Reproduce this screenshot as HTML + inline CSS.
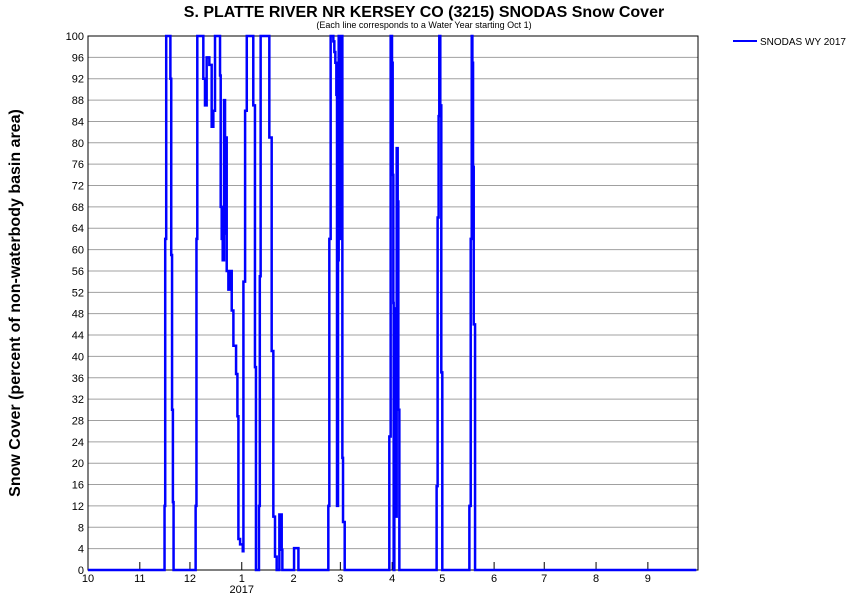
<!DOCTYPE html>
<html><head><meta charset="utf-8"><style>
body{margin:0;background:#fff;}
svg{display:block;font-family:"Liberation Sans",Arial,sans-serif;}
</style></head><body>
<svg id="chart" width="850" height="600">
<text x="424" y="17" text-anchor="middle" font-size="16" font-weight="bold">S. PLATTE RIVER NR KERSEY CO (3215) SNODAS Snow Cover</text>
<text x="424" y="28" text-anchor="middle" font-size="9">(Each line corresponds to a Water Year starting Oct 1)</text>
<text transform="translate(20,303) rotate(-90)" text-anchor="middle" font-size="16" font-weight="bold">Snow Cover (percent of non-waterbody basin area)</text>
<g id="grid"></g>
<g id="yticks"></g>
<g id="xticks"></g>
<rect x="88" y="36" width="610" height="534" fill="none" stroke="#000" stroke-width="1"/>
<path id="series" fill="none" stroke="#0000ff" stroke-width="2.5" stroke-linejoin="miter"/>
<g>
<line x1="733" y1="41" x2="757" y2="41" stroke="#0000ff" stroke-width="2"/>
<text x="760" y="45" font-size="10">SNODAS WY 2017</text>
</g>
</svg>
<script>
const yTicks = [0,4,8,12,16,20,24,28,32,36,40,44,48,52,56,60,64,68,72,76,80,84,88,92,96,100];
const monthLabels = ["10","11","12","1","2","3","4","5","6","7","8","9"];
const monthStartDays = [0,31,61,92,123,151,182,212,243,273,304,335];
// days since Oct 1 and snow cover percent
const days = [0,45.5,45.8,46.2,46.8,48.8,49.3,49.8,50.3,50.8,51.2,
64.2,64.4,64.9,65.4,68,69,70,71,72.6,74,75,76,78.6,79,79.4,80,80.6,81.4,82,82.6,83,84,85,86,87,88.6,89.4,90,91,92.6,93,94,95,98.3,98.9,99.9,100.5,101.9,102.3,102.8,103.3,107.3,108.5,109.9,110.9,111.9,112.9,114.3,114.5,115.9,116.3,123.1,123.3,123.8,125.3,125.9,
143.5,143.8,144.4,145.2,146.2,146.8,147.4,148,148.6,149,149.6,150,150.6,151,151.4,151.8,152.2,152.6,153.4,153.6,
180,180.3,181.1,181.9,182.3,182.7,182.9,183.3,183.9,184.3,184.7,185.3,185.7,186.3,
208.4,208.6,209.2,209.8,210.2,210.8,211.4,212,
228,228.2,229,229.6,230,230.4,230.8,231.6,364];
const cover = [0,0,12,62,100,100,92,59,30,12.7,0,
0,12,62,100,100,92,87,96,94.6,83,86,100,100,92.6,68,62,58,88,63,81,56,52.5,56,48.6,42,36.7,28.8,5.8,4.8,3.5,54,86,100,100,87,38,0,0,12,55,100,100,81,41,10,2.5,0,0,10.4,3.8,0,0,4.1,4.1,4.1,0,
0,12,62,100,100,99,97,95,89,12,58,100,62,100,81,100,21,9,9,0,
0,25,100,95,74,50,0,22,49,10,79,69,30,0,
0,15.7,66,85,100,87,37,0,
0,12,62,100,95,75.5,46,0,0];
const X0=88,X1=698,Y0=570,Y1=36,NDAYS=365;
const xs=d=>X0+d*(X1-X0)/NDAYS;
const ys=v=>Y0-v*(Y0-Y1)/100;
const NS="http://www.w3.org/2000/svg";
const grid=document.getElementById('grid'),yt=document.getElementById('yticks'),xt=document.getElementById('xticks');
yTicks.forEach(v=>{
  const y=ys(v);
  if(v>0&&v<100){const l=document.createElementNS(NS,'line');
  l.setAttribute('x1',X0);l.setAttribute('x2',X1);l.setAttribute('y1',y);l.setAttribute('y2',y);
  l.setAttribute('stroke','#a0a0a0');l.setAttribute('stroke-width','1');
  
  
  grid.appendChild(l);}
  const t=document.createElementNS(NS,'text');
  t.setAttribute('x',84);t.setAttribute('y',y+4);t.setAttribute('text-anchor','end');t.setAttribute('font-size','11');
  t.textContent=v;
  
  
  yt.appendChild(t);
});
monthLabels.forEach((m,i)=>{
  const x=xs(monthStartDays[i]);
  const l=document.createElementNS(NS,'line');
  l.setAttribute('x1',x);l.setAttribute('x2',x);l.setAttribute('y1',Y0);l.setAttribute('y2',Y0-8);
  l.setAttribute('stroke','#000');
  
  
  xt.appendChild(l);
  const t=document.createElementNS(NS,'text');
  t.setAttribute('x',x);t.setAttribute('y',582);t.setAttribute('text-anchor','middle');t.setAttribute('font-size','11');
  t.textContent=m;
  
  
  xt.appendChild(t);
  if(m==="1"){const y=document.createElementNS(NS,'text');
  y.setAttribute('x',x);y.setAttribute('y',593);y.setAttribute('text-anchor','middle');y.setAttribute('font-size','11');
  y.textContent="2017";
  
  
  xt.appendChild(y);}
});
let d="";
days.forEach((dd,i)=>{
  if(i===0){d+="M"+xs(dd).toFixed(2)+" "+ys(cover[i]).toFixed(2);}
  else{d+="H"+xs(dd).toFixed(2)+"V"+ys(cover[i]).toFixed(2);}
});
document.getElementById('series').setAttribute('d',d);
</script>
</body></html>
